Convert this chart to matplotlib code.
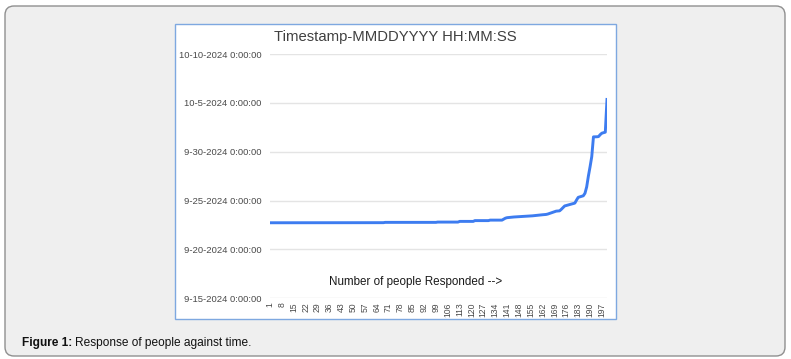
import numpy as np
import pandas as pd
import matplotlib
matplotlib.use("Agg")
import matplotlib.pyplot as plt
import matplotlib.dates as mdates
from matplotlib.patches import FancyBboxPatch, Rectangle
from matplotlib.ticker import FuncFormatter

plt.rcParams['font.family'] = ['Liberation Sans', 'DejaVu Sans']

# response number (1..200) and time of response, in days after 15 Sep 2024 00:00
respondents = list(range(1, 201))
days_after_sep15 = [
    7.73, 7.73, 7.73, 7.73, 7.73, 7.73, 7.73, 7.73, 7.73, 7.73,
    7.73, 7.73, 7.73, 7.73, 7.73, 7.73, 7.73, 7.73, 7.73, 7.73,
    7.73, 7.73, 7.73, 7.73, 7.73, 7.73, 7.73, 7.73, 7.73, 7.73,
    7.73, 7.73, 7.73, 7.73, 7.73, 7.73, 7.73, 7.73, 7.73, 7.73,
    7.74, 7.74, 7.74, 7.74, 7.74, 7.74, 7.74, 7.74, 7.74, 7.74,
    7.74, 7.74, 7.74, 7.74, 7.74, 7.74, 7.74, 7.74, 7.74, 7.74,
    7.74, 7.74, 7.74, 7.74, 7.74, 7.74, 7.74, 7.74, 7.77, 7.77,
    7.77, 7.77, 7.77, 7.77, 7.77, 7.77, 7.77, 7.77, 7.77, 7.77,
    7.77, 7.77, 7.77, 7.77, 7.77, 7.77, 7.77, 7.77, 7.77, 7.77,
    7.77, 7.77, 7.77, 7.77, 7.77, 7.77, 7.77, 7.77, 7.77, 7.80,
    7.80, 7.80, 7.80, 7.80, 7.80, 7.80, 7.80, 7.80, 7.80, 7.80,
    7.80, 7.80, 7.87, 7.87, 7.87, 7.87, 7.87, 7.87, 7.87, 7.87,
    7.87, 7.95, 7.95, 7.95, 7.95, 7.95, 7.95, 7.95, 7.95, 7.95,
    8.00, 8.00, 8.00, 8.00, 8.00, 8.00, 8.00, 8.00, 8.10, 8.20,
    8.25, 8.27, 8.29, 8.31, 8.32, 8.33, 8.34, 8.35, 8.36, 8.37,
    8.38, 8.39, 8.40, 8.41, 8.42, 8.44, 8.46, 8.49, 8.50, 8.52,
    8.53, 8.55, 8.56, 8.58, 8.62, 8.68, 8.74, 8.80, 8.86, 8.92,
    8.93, 8.95, 9.10, 9.28, 9.45, 9.50, 9.55, 9.60, 9.65, 9.70,
    9.74, 10.05, 10.33, 10.38, 10.43, 10.49, 10.75, 11.40, 12.50, 13.46,
    14.50, 16.52, 16.52, 16.53, 16.55, 16.75, 16.90, 16.95, 17.00, 20.35,
]
x_tick_labels = [str(v) for v in range(1, 201, 7)]
y_tick_dates = ['2024-09-15', '2024-09-20', '2024-09-25', '2024-09-30', '2024-10-05', '2024-10-10']

start = pd.Timestamp('2024-09-15')
times = start + pd.to_timedelta(days_after_sep15, unit='D')

fig = plt.figure(figsize=(7.91, 3.59), dpi=100)
fig.patch.set_facecolor('white')

# background panel in pixel coordinates
bg = fig.add_axes([0, 0, 1, 1], zorder=0)
bg.set_xlim(0, 791)
bg.set_ylim(359, 0)
bg.axis('off')
bg.add_patch(FancyBboxPatch((5, 6), 780, 350, boxstyle="round,pad=0,rounding_size=9",
                            fc='#efefef', ec='#8f8f8f', lw=1))
bg.add_patch(Rectangle((175, 24), 441, 295, fc='white', ec='#7ea8e0', lw=1))
bg.text(395, 37, 'Timestamp-MMDDYYYY HH:MM:SS', ha='center', va='center',
        fontsize=10.7, color='#404040')
bg.text(416, 282.5, 'Number of people Responded -->', ha='center', va='center',
        fontsize=8.4, color='#1a1a1a')
fig_lbl = bg.text(22, 343, 'Figure 1:', ha='left', va='center', fontsize=8.6,
                  fontweight='bold', color='#111111')
r = fig.canvas.get_renderer()
bb = fig_lbl.get_window_extent(r)
bg.text(22 + bb.width + 3, 343, 'Response of people against time.', ha='left', va='center',
        fontsize=8.6, color='#111111')

# chart
ax = fig.add_axes([270 / 791, (359 - 298.3) / 359, 337 / 791, 244.3 / 359], zorder=1)
ax.patch.set_alpha(0)
ax.plot(respondents, times, color='#3d7cf0', lw=2.1, solid_joinstyle='round')

ax.set_xlim(1, 200)
ax.set_xticks(range(1, 201, 7))
ax.set_xticklabels(x_tick_labels, rotation=90, fontsize=6.2, color='#4a4a4a')

yt = [mdates.date2num(pd.Timestamp(d)) for d in y_tick_dates]
ax.set_ylim(yt[0], yt[-1])
ax.set_yticks(yt)
ax.yaxis.set_major_formatter(FuncFormatter(
    lambda v, p: '{d.month}-{d.day}-{d.year} 0:00:00'.format(d=mdates.num2date(v))))
ax.tick_params(axis='y', labelsize=6.8, colors='#4a4a4a', length=0, pad=6)
ax.tick_params(axis='x', length=0, pad=3)

ax.grid(axis='y', color='#e4e4e4', lw=1)
ax.set_axisbelow(True)
for s in ax.spines.values():
    s.set_visible(False)

fig.savefig('out.png', dpi=100)
